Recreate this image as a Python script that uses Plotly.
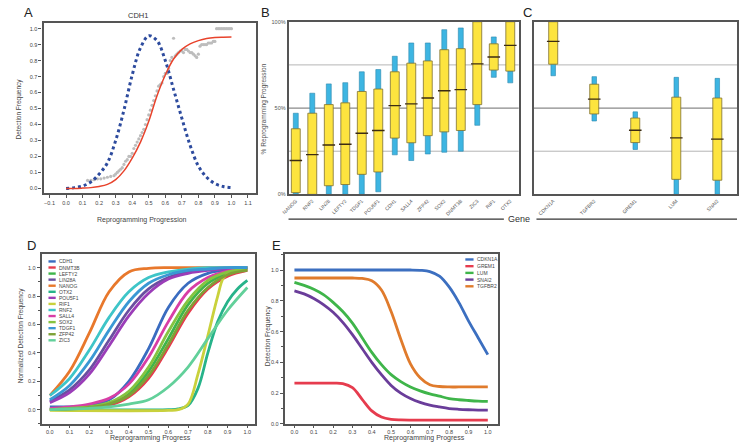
import plotly.graph_objects as go

W, H = 739, 442
FONT = "Liberation Sans, Arial, sans-serif"

def px(x):
    return x / W

def py(y):
    return 1 - y / H

# ---------------- Panel A : CDH1 ----------------
a_x = [0.0, 0.05, 0.1, 0.15, 0.2, 0.25, 0.3, 0.35, 0.4, 0.45, 0.5,
       0.55, 0.6, 0.65, 0.7, 0.75, 0.8, 0.85, 0.9, 0.95, 1.0]
a_density = [0.0, 0.005, 0.015, 0.04, 0.09, 0.16, 0.30, 0.49, 0.71, 0.88, 0.955,
             0.925, 0.80, 0.62, 0.44, 0.27, 0.14, 0.07, 0.03, 0.012, 0.006]
a_fit = [0.0, 0.0, 0.002, 0.005, 0.012, 0.025, 0.055, 0.11, 0.19, 0.29, 0.42,
         0.58, 0.71, 0.81, 0.87, 0.905, 0.925, 0.938, 0.944, 0.946, 0.947]
a_obs_x = [0.13, 0.15, 0.17, 0.19, 0.21, 0.23, 0.25, 0.27, 0.29, 0.30, 0.31, 0.32,
           0.33, 0.34, 0.35, 0.36, 0.37, 0.38, 0.39, 0.40, 0.41, 0.42, 0.43, 0.44,
           0.45, 0.46, 0.47, 0.48, 0.49, 0.50, 0.51, 0.52, 0.53, 0.54, 0.55, 0.56,
           0.57, 0.58, 0.59, 0.60, 0.61, 0.62, 0.63, 0.64, 0.65, 0.66, 0.67, 0.68,
           0.69, 0.70, 0.71, 0.72, 0.73, 0.74, 0.75, 0.76, 0.77, 0.78, 0.79, 0.80,
           0.81, 0.82, 0.83, 0.84, 0.85, 0.86, 0.87, 0.88, 0.89, 0.90, 0.91, 0.92,
           0.93, 0.94, 0.95, 0.96, 0.97, 0.98, 0.99, 1.00]
a_obs_y = [0.05, 0.05, 0.055, 0.06, 0.06, 0.065, 0.07, 0.075, 0.08, 0.09, 0.10, 0.11,
           0.12, 0.13, 0.15, 0.17, 0.18, 0.20, 0.20, 0.22, 0.25, 0.27, 0.29, 0.31,
           0.33, 0.35, 0.37, 0.40, 0.43, 0.46, 0.49, 0.52, 0.55, 0.58, 0.61, 0.64,
           0.65, 0.66, 0.70, 0.72, 0.72, 0.75, 0.80, 0.82, 0.94, 0.83, 0.84, 0.85,
           0.86, 0.86, 0.85, 0.87, 0.87, 0.86, 0.85, 0.85, 0.84, 0.83, 0.82, 0.84,
           0.89, 0.90, 0.90, 0.90, 0.90, 0.91, 0.91, 0.91, 0.92, 0.92, 1.0, 1.0,
           1.0, 1.0, 1.0, 1.0, 1.0, 1.0, 1.0, 1.0]
a_xticks = [-0.1, 0.0, 0.1, 0.2, 0.3, 0.4, 0.5, 0.6, 0.7, 0.8, 0.9, 1.0, 1.1]
a_yticks = [0.0, 0.1, 0.2, 0.3, 0.4, 0.5, 0.6, 0.7, 0.8, 0.9, 1.0]

# ---------------- Panel B : ESC genes (% progression) ----------------
b_genes = ["NANOG", "RNF2", "LIN28", "LEFTY2", "TDGF1", "POU5F1", "CDH1",
           "SALL4", "ZFP42", "SOX2", "DNMT3B", "ZIC3", "RIF1", "OTX2"]
b_wlo = [0, 0, 0, 0, 0, 1.5, 22.9, 19.6, 23.4, 24.4, 25.0, 40.0, 67.8, 64.6]
b_q1 = [1, 0, 5, 5.7, 11.6, 13, 32.6, 29.9, 34, 36.2, 37, 52, 72, 71.4]
b_med = [19.6, 23, 28.6, 29, 35.4, 37, 51.4, 52.4, 55.8, 60, 60.7, 75.6, 79.6, 86.3]
b_q3 = [38, 47, 52, 53, 59.6, 61, 71, 76, 77.3, 83.8, 84.4, 100, 87.2, 100]
b_whi = [47, 58.6, 64, 64.7, 71, 72.3, 80, 87.7, 87.7, 95.4, 96.4, 100, 91.2, 100]

# ---------------- Panel C : fibroblast genes ----------------
c_genes = ["CDKN1A", "TGFBR2", "GREM1", "LUM", "SNAI2"]
c_wlo = [68.7, 42.5, 26, 0, 0]
c_q1 = [75.4, 46.6, 30, 8.7, 8.2]
c_med = [88.6, 55.2, 37.1, 32.7, 32]
c_q3 = [100, 63.8, 44.2, 56.3, 55.8]
c_whi = [100, 68.2, 47.8, 67.8, 67.2]
bc_grid = [25, 50, 75]

# ---------------- Panel D : normalized fits ----------------
d_x = [0.0, 0.1, 0.2, 0.3, 0.4, 0.5, 0.6, 0.7, 0.8, 0.9, 1.0]
d_cdh1 = [0.02, 0.02, 0.03, 0.07, 0.2, 0.43, 0.72, 0.89, 0.96, 0.985, 1.0]
d_dnmt3b = [0.0, 0.005, 0.01, 0.03, 0.09, 0.22, 0.44, 0.68, 0.85, 0.94, 0.98]
d_lefty2 = [0.0, 0.01, 0.02, 0.04, 0.11, 0.27, 0.5, 0.74, 0.89, 0.96, 0.99]
d_lin28a = [0.06, 0.14, 0.28, 0.49, 0.7, 0.85, 0.93, 0.97, 0.99, 0.995, 1.0]
d_nanog = [0.1, 0.27, 0.54, 0.83, 0.97, 0.995, 1.0, 1.0, 1.0, 1.0, 1.0]
d_otx2_x = [0.0, 0.6, 0.65, 0.7, 0.75, 0.8, 0.85, 0.9, 0.95, 1.0]
d_otx2 = [0.0, 0.0, 0.005, 0.03, 0.15, 0.4, 0.62, 0.76, 0.85, 0.91]
d_pou5f1 = [0.05, 0.12, 0.25, 0.45, 0.66, 0.82, 0.92, 0.96, 0.98, 0.99, 1.0]
d_rif1_x = [0.0, 0.6, 0.65, 0.7, 0.75, 0.8, 0.85, 0.88, 0.92, 0.96, 1.0]
d_rif1 = [-0.005, -0.005, 0.0, 0.04, 0.25, 0.52, 0.8, 0.93, 0.975, 0.99, 1.0]
d_rnf2 = [0.1, 0.22, 0.42, 0.65, 0.83, 0.93, 0.97, 0.99, 1.0, 1.0, 1.0]
d_sall4 = [0.01, 0.02, 0.04, 0.08, 0.18, 0.37, 0.62, 0.83, 0.93, 0.975, 0.99]
d_sox2 = [0.0, 0.01, 0.02, 0.05, 0.13, 0.3, 0.55, 0.77, 0.91, 0.97, 0.99]
d_tdgf1 = [0.07, 0.17, 0.34, 0.56, 0.76, 0.89, 0.95, 0.98, 0.99, 1.0, 1.0]
d_zfp42 = [0.0, 0.005, 0.015, 0.04, 0.1, 0.24, 0.46, 0.7, 0.86, 0.95, 0.98]
d_zic3 = [0.0, 0.005, 0.01, 0.02, 0.04, 0.07, 0.16, 0.3, 0.5, 0.7, 0.86]
d_names = ["CDH1", "DNMT3B", "LEFTY2", "LIN28A", "NANOG", "OTX2", "POU5F1",
           "RIF1", "RNF2", "SALL4", "SOX2", "TDGF1", "ZFP42", "ZIC3"]
d_colors = ["#3a6cc0", "#e63c4e", "#3fb54a", "#6a4fa0", "#e8782c", "#27b38a",
            "#9b3db8", "#c9d13c", "#3ec5c8", "#d83ea6", "#86c440", "#3a98d4",
            "#7ea136", "#62d09a"]

# ---------------- Panel E : fibroblast fits ----------------
e_x = [0.0, 0.05, 0.1, 0.15, 0.2, 0.25, 0.3, 0.35, 0.4, 0.45, 0.5,
       0.55, 0.6, 0.65, 0.7, 0.75, 0.8, 0.85, 0.9, 0.95, 1.0]
e_cdkn1a = [1.0, 1.0, 1.0, 1.0, 1.0, 1.0, 1.0, 1.0, 1.0, 1.0, 1.0,
            1.0, 1.0, 0.998, 0.99, 0.96, 0.89, 0.79, 0.67, 0.56, 0.45]
e_grem1 = [0.265, 0.265, 0.265, 0.265, 0.265, 0.262, 0.235, 0.16, 0.085, 0.045, 0.03,
           0.026, 0.025, 0.025, 0.025, 0.025, 0.025, 0.025, 0.025, 0.025, 0.025]
e_lum = [0.92, 0.9, 0.875, 0.84, 0.79, 0.73, 0.655, 0.56, 0.465, 0.385, 0.32,
         0.275, 0.24, 0.215, 0.195, 0.18, 0.165, 0.157, 0.152, 0.148, 0.146]
e_snai2 = [0.865, 0.845, 0.815, 0.775, 0.725, 0.66, 0.58, 0.49, 0.4, 0.32, 0.25,
           0.2, 0.165, 0.14, 0.122, 0.11, 0.1, 0.095, 0.092, 0.09, 0.089]
e_tgfbr2 = [0.948, 0.948, 0.948, 0.948, 0.948, 0.948, 0.948, 0.945, 0.93, 0.87, 0.73,
            0.55, 0.39, 0.3, 0.255, 0.243, 0.24, 0.24, 0.24, 0.24, 0.24]
e_names = ["CDKN1A", "GREM1", "LUM", "SNAI2", "TGFBR2"]
e_colors = ["#3c6fc0", "#e63c4e", "#3fb54a", "#6a3d9a", "#e07b2c"]

pct_ticks = [0, 50, 100]
pct_text = ["0%", "50%", "100%"]
de_xticks = [0.0, 0.1, 0.2, 0.3, 0.4, 0.5, 0.6, 0.7, 0.8, 0.9, 1.0]
de_yticks = [0.0, 0.2, 0.4, 0.6, 0.8, 1.0]

fig = go.Figure()

# Panel A traces
fig.add_trace(go.Scatter(x=a_obs_x, y=a_obs_y, mode="markers",
                         marker=dict(size=3.2, color="#bdbdbd"),
                         xaxis="x", yaxis="y", showlegend=False))
fig.add_trace(go.Scatter(x=a_x, y=a_density, mode="lines", line_shape="spline",
                         line=dict(color="#2d4b9e", width=3, dash="dot"),
                         xaxis="x", yaxis="y", showlegend=False))
fig.add_trace(go.Scatter(x=a_x, y=a_fit, mode="lines", line_shape="spline",
                         line=dict(color="#e8432c", width=1.5),
                         xaxis="x", yaxis="y", showlegend=False))

# Panels B and C box plots
def add_boxes(wlo, q1, med, q3, whi, xa, ya, wbar, wbox, msize):
    pos = list(range(len(med)))
    fig.add_trace(go.Bar(x=pos, base=wlo, y=[h - l for h, l in zip(whi, wlo)],
                         width=wbar, marker=dict(color="#3db5e2",
                         line=dict(color="#2a86ad", width=0.6)),
                         xaxis=xa, yaxis=ya, showlegend=False))
    fig.add_trace(go.Bar(x=pos, base=q1, y=[h - l for h, l in zip(q3, q1)],
                         width=wbox, marker=dict(color="#fde43f",
                         line=dict(color="#7f7030", width=0.8)),
                         xaxis=xa, yaxis=ya, showlegend=False))
    fig.add_trace(go.Scatter(x=pos, y=med, mode="markers",
                             marker=dict(symbol="line-ew", size=msize,
                                         line=dict(color="#3b2b12", width=1.4)),
                             xaxis=xa, yaxis=ya, showlegend=False))

add_boxes(b_wlo, b_q1, b_med, b_q3, b_whi, "x2", "y2", 0.3, 0.54, 9)
add_boxes(c_wlo, c_q1, c_med, c_q3, c_whi, "x3", "y3", 0.11, 0.22, 9)

# Panel D traces
d_series = [(d_x, d_cdh1), (d_x, d_dnmt3b), (d_x, d_lefty2), (d_x, d_lin28a),
            (d_x, d_nanog), (d_otx2_x, d_otx2), (d_x, d_pou5f1), (d_rif1_x, d_rif1),
            (d_x, d_rnf2), (d_x, d_sall4), (d_x, d_sox2), (d_x, d_tdgf1),
            (d_x, d_zfp42), (d_x, d_zic3)]
for (xs, ys), nm, col in zip(d_series, d_names, d_colors):
    fig.add_trace(go.Scatter(x=xs, y=ys, mode="lines", line_shape="spline",
                             line=dict(color=col, width=2.8), name=nm,
                             xaxis="x4", yaxis="y4", showlegend=False))

# Panel E traces
for ys, nm, col in zip([e_cdkn1a, e_grem1, e_lum, e_snai2, e_tgfbr2], e_names, e_colors):
    fig.add_trace(go.Scatter(x=e_x, y=ys, mode="lines", line_shape="spline",
                             line=dict(color=col, width=2.8), name=nm,
                             xaxis="x5", yaxis="y5", showlegend=False))

tickfont = dict(family=FONT, size=5.5, color="#444")
box = dict(showline=True, mirror=True, linecolor="#555", linewidth=1.6,
           zeroline=False, showgrid=False)

fig.update_layout(
    width=W, height=H, margin=dict(l=0, r=0, t=0, b=0),
    paper_bgcolor="white", plot_bgcolor="white", barmode="overlay",
    font=dict(family=FONT),
    xaxis=dict(domain=[px(37), px(252)], range=[-0.136, 1.148], anchor="y",
               tickvals=a_xticks, tickformat=".1f", ticks="outside", ticklen=3,
               tickcolor="#555", tickfont=tickfont, **{**box, "linewidth": 2.2}),
    yaxis=dict(domain=[py(193), py(20)], range=[-0.031, 1.037], anchor="x",
               tickvals=a_yticks, tickformat=".1f", ticks="outside", ticklen=3,
               tickcolor="#555", tickfont=tickfont, **{**box, "linewidth": 2.2}),
    xaxis2=dict(domain=[px(285), px(518)], range=[-0.44, 13.51], anchor="y2",
                tickvals=list(range(len(b_genes))), ticktext=b_genes, tickangle=-45,
                ticks="", tickfont=dict(family=FONT, size=5, color="#555"), **box),
    yaxis2=dict(domain=[py(194), py(19)], range=[0, 100], anchor="x2",
                tickvals=pct_ticks, ticktext=pct_text, ticks="",
                tickfont=dict(family=FONT, size=5.5, color="#555"), **box),
    xaxis3=dict(domain=[px(533), px(739)], range=[-0.48, 4.48], anchor="y3",
                tickvals=list(range(len(c_genes))), ticktext=c_genes, tickangle=-45,
                ticks="", tickfont=dict(family=FONT, size=5, color="#555"), **box),
    yaxis3=dict(domain=[py(194), py(19)], range=[0, 100], anchor="x3",
                showticklabels=False, ticks="", **box),
    xaxis4=dict(domain=[px(35), px(250.7)], range=[-0.042, 1.037], anchor="y4",
                tickvals=de_xticks, tickformat=".1f", ticks="outside", ticklen=2,
                tickcolor="#555", tickfont=tickfont, **box),
    yaxis4=dict(domain=[py(426.7), py(254.3)], range=[-0.1, 1.097], anchor="x4",
                tickvals=de_yticks, tickformat=".1f", ticks="outside", ticklen=3,
                tickcolor="#555", tickfont=tickfont,
                minor=dict(dtick=0.1, ticks="outside", ticklen=2, tickcolor="#555"), **box),
    xaxis5=dict(domain=[px(281), px(497.3)], range=[-0.051, 1.054], anchor="y5",
                tickvals=de_xticks, tickformat=".1f", ticks="outside", ticklen=2,
                tickcolor="#555", tickfont=tickfont, **box),
    yaxis5=dict(domain=[py(426.7), py(254.3)], range=[0, 1.105], anchor="x5",
                tickvals=de_yticks, tickformat=".1f", ticks="outside", ticklen=3,
                tickcolor="#555", tickfont=tickfont,
                minor=dict(dtick=0.1, ticks="outside", ticklen=2, tickcolor="#555"), **box),
)

shapes = []
# gridlines in B and C
for xr, yr in [("x2 domain", "y2"), ("x3 domain", "y3")]:
    for g in bc_grid:
        shapes.append(dict(type="line", xref=xr, yref=yr, x0=0, x1=1, y0=g, y1=g,
                           layer="below",
                           line=dict(color="#8a8a8a" if g == 50 else "#b5b5b5",
                                     width=1.3 if g == 50 else 1)))
# "Gene" rule
shapes.append(dict(type="line", xref="paper", yref="paper", x0=px(285), x1=px(503),
                   y0=py(219), y1=py(219), line=dict(color="#333", width=1.2)))
shapes.append(dict(type="line", xref="paper", yref="paper", x0=px(536), x1=px(739),
                   y0=py(219), y1=py(219), line=dict(color="#333", width=1.2)))

annotations = []
def ann(text, x, y, size, color="#333", angle=0, xanchor="center"):
    annotations.append(dict(text=text, x=px(x), y=py(y), xref="paper", yref="paper",
                            showarrow=False, textangle=angle, xanchor=xanchor,
                            yanchor="middle", font=dict(family=FONT, size=size, color=color)))

# D legend
for i, (nm, col) in enumerate(zip(d_names, d_colors)):
    yy = 262 + i * 6.15
    shapes.append(dict(type="line", xref="paper", yref="paper", x0=px(42), x1=px(49.3),
                       y0=py(yy), y1=py(yy), line=dict(color=col, width=2.4)))
    ann(nm, 50.8, yy, 5, "#444", xanchor="left")
# E legend
for i, (nm, col) in enumerate(zip(e_names, e_colors)):
    yy = 260 + i * 6.8
    shapes.append(dict(type="line", xref="paper", yref="paper", x0=px(464), x1=px(472.3),
                       y0=py(yy), y1=py(yy), line=dict(color=col, width=2.4)))
    ann(nm, 473.8, yy, 5, "#444", xanchor="left")

ann("A", 22, 10, 13, "#222")
ann("B", 262, 10, 13, "#222")
ann("C", 527, 10, 13, "#222")
ann("D", 25, 246, 13, "#222")
ann("E", 273, 246, 13, "#222")
ann("CDH1", 133, 13, 7.5, "#333")
ann("Detection Frequency", 12, 107, 6.5, "#444", angle=-90)
ann("Reprogramming Progression", 137, 220, 7, "#444")
ann("% Reprogramming Progression", 260, 107, 6.5, "#555", angle=-90)
ann("Gene", 518, 219, 9, "#333")
ann("Normalized Detection Frequency", 15, 337, 6.5, "#444", angle=-90)
ann("Reprogramming Progress", 145, 441, 7, "#444")
ann("Detection Frequency", 265, 337, 6.5, "#444", angle=-90)
ann("Reprogramming Progress", 423, 441, 7, "#444")

fig.update_layout(shapes=shapes, annotations=annotations)
fig.write_html("out.html", config={"displayModeBar": False},
               post_script="document.body.style.margin='0';document.body.style.overflow='hidden';")
